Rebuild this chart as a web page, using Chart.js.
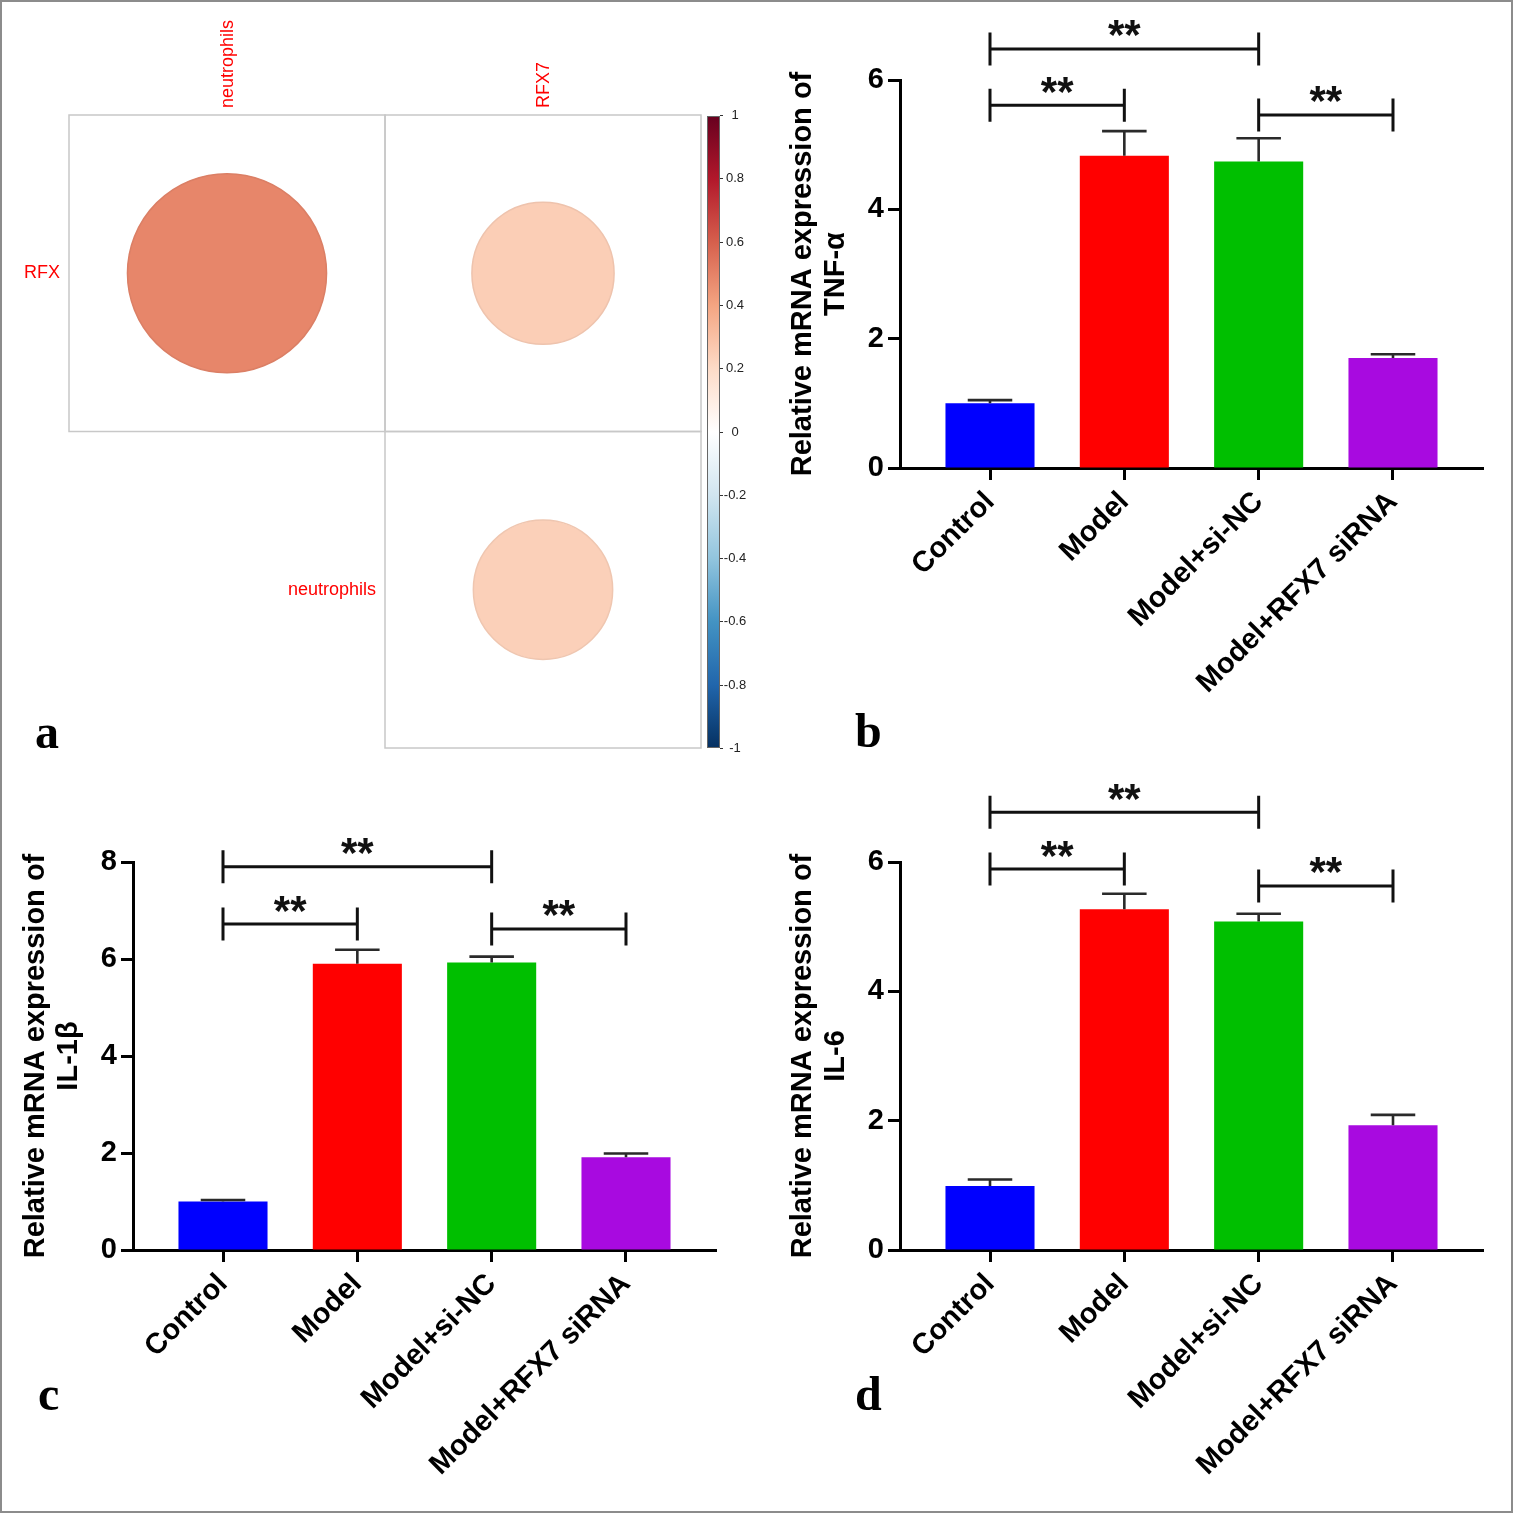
<!DOCTYPE html>
<html><head><meta charset="utf-8">
<script src="https://cdn.jsdelivr.net/npm/chart.js@4.4.1/dist/chart.umd.min.js"></script>
<style>
html,body{margin:0;padding:0;background:#fff;}
#fig{position:relative;width:1513px;height:1513px;background:#fff;overflow:hidden;}
#fig canvas{position:absolute;}
#frame{position:absolute;left:0;top:0;width:1513px;height:1513px;box-sizing:border-box;border:2px solid #8c8c8c;pointer-events:none;}
</style></head>
<body>
<div id="fig">
  <canvas id="ca" width="760" height="760" style="left:0;top:0"></canvas>
  <canvas id="cb" width="753" height="760" style="left:760px;top:0"></canvas>
  <canvas id="cc" width="760" height="753" style="left:0;top:760px"></canvas>
  <canvas id="cd" width="753" height="753" style="left:760px;top:760px"></canvas>
  <div id="frame"></div>
</div>
<script>
// ---------- DATA ----------
const corrCols = ['neutrophils', 'RFX7'];
const corrRows = ['RFX', 'neutrophils'];
const corrRowIdx = [0, 0, 1];
const corrColIdx = [0, 1, 1];
const corrVals = [0.49, 0.25, 0.24];
const cbTicks = [1, 0.8, 0.6, 0.4, 0.2, 0, -0.2, -0.4, -0.6, -0.8, -1];

const categories = ['Control', 'Model', 'Model+si-NC', 'Model+RFX7 siRNA'];
const tnfMean = [1.00, 4.83, 4.74, 1.70];
const tnfErr  = [0.05, 0.38, 0.36, 0.06];
const il1bMean = [1.00, 5.90, 5.93, 1.91];
const il1bErr  = [0.03, 0.29, 0.12, 0.08];
const il6Mean = [0.99, 5.27, 5.08, 1.93];
const il6Err  = [0.10, 0.24, 0.12, 0.16];
const tnfTicks = [0, 2, 4, 6];
const il1bTicks = [0, 2, 4, 6, 8];
const il6Ticks = [0, 2, 4, 6];
// [from category, to category, bracket level]
const tnfBrackets = [[0, 2, 6.48], [0, 1, 5.61], [2, 3, 5.46]];
const il1bBrackets = [[0, 2, 7.90], [0, 1, 6.72], [2, 3, 6.62]];
const il6Brackets = [[0, 2, 6.77], [0, 1, 5.89], [2, 3, 5.63]];
const sigText = '**';

// ---------- STYLE ----------
const SANS = '"Liberation Sans", Arial, Helvetica, sans-serif';
const SERIF = '"Liberation Serif", "Times New Roman", serif';
Chart.defaults.font.family = SANS;
Chart.defaults.color = '#000';
const barColors = ['#0000ff', '#ff0000', '#00bf00', '#a80ae0'];
const rdbu = ['#053061','#2166AC','#4393C3','#92C5DE','#D1E5F0','#FFFFFF','#FDDBC7','#F4A582','#D6604D','#B2182B','#67001F']; // -1 .. 1
// panel a grid geometry (pixels)
const A_LEFT = 69, A_RIGHT_PAD = 59, A_TOP = 115, A_BOTTOM_PAD = 12, A_W = 760;
const A_CELL_HALF = (A_W - A_LEFT - A_RIGHT_PAD) / corrCols.length / 2;

function hex2rgb(h){return [parseInt(h.substr(1,2),16),parseInt(h.substr(3,2),16),parseInt(h.substr(5,2),16)];}
function corrColor(v, k){
  k = k || 1;
  const p = (v + 1) / 2 * (rdbu.length - 1);
  const i = Math.min(Math.floor(p), rdbu.length - 2), t = p - i;
  const a = hex2rgb(rdbu[i]), b = hex2rgb(rdbu[i+1]);
  const c = a.map((x, j) => Math.round((x + (b[j] - x) * t) * k));
  return 'rgb(' + c.join(',') + ')';
}

function letterPlugin(letter, x, y){
  return {id:'letter', afterDraw(chart){
    const ctx = chart.ctx; ctx.save();
    ctx.font = 'bold 48px ' + SERIF; ctx.fillStyle = '#000';
    ctx.textAlign = 'left'; ctx.textBaseline = 'alphabetic';
    ctx.fillText(letter, x, y); ctx.restore();
  }};
}

// ---------- PANEL A ----------
const cbToY = v => 1 - v;   // colour-bar value -> row-scale value (+1 at top, -1 at bottom)
const corrPlugin = {
  id: 'corr',
  beforeDatasetsDraw(chart){
    const {ctx, scales:{x, y}} = chart;
    ctx.save(); ctx.strokeStyle = '#c8c8c8'; ctx.lineWidth = 1.5;
    corrVals.forEach((v, i) => {
      const x0 = x.getPixelForValue(corrColIdx[i]), x1 = x.getPixelForValue(corrColIdx[i] + 1);
      const y0 = y.getPixelForValue(corrRowIdx[i]), y1 = y.getPixelForValue(corrRowIdx[i] + 1);
      ctx.strokeRect(x0, y0, x1 - x0, y1 - y0);
    });
    ctx.restore();
  },
  afterDraw(chart){
    const {ctx, scales:{x, y}, chartArea} = chart;
    ctx.save();
    ctx.font = '18px ' + SANS; ctx.fillStyle = '#ff0000'; ctx.textAlign = 'right'; ctx.textBaseline = 'middle';
    corrRows.forEach((r, ri) => {
      const cols = corrColIdx.filter((c, i) => corrRowIdx[i] === ri);
      const first = Math.min.apply(null, cols);
      ctx.fillText(r, x.getPixelForValue(first) - 9, y.getPixelForValue(ri + 0.5));
    });
    const bx = chartArea.right + 6, bw = 13;
    const yt = y.getPixelForValue(cbToY(1)) + 1, yb = y.getPixelForValue(cbToY(-1));
    const g = ctx.createLinearGradient(0, yt, 0, yb);
    rdbu.slice().reverse().forEach((c, i) => g.addColorStop(i / (rdbu.length - 1), c));
    ctx.fillStyle = g; ctx.fillRect(bx, yt, bw, yb - yt);
    ctx.strokeStyle = '#666'; ctx.lineWidth = 1; ctx.strokeRect(bx + 0.5, yt + 0.5, bw - 1, yb - yt - 1);
    ctx.strokeStyle = '#333'; ctx.fillStyle = '#222';
    ctx.font = '13px ' + SANS; ctx.textAlign = 'center'; ctx.textBaseline = 'middle';
    cbTicks.forEach(v => {
      const py = Math.round(y.getPixelForValue(cbToY(v))) + 0.5;
      ctx.beginPath(); ctx.moveTo(bx + bw, py); ctx.lineTo(bx + bw + 3, py); ctx.stroke();
      ctx.fillText(String(v), bx + bw + 15, py);
    });
    ctx.restore();
  }
};

new Chart(document.getElementById('ca'), {
  type: 'bubble',
  data: {datasets: [{
    data: corrVals.map((v, i) => ({
      x: corrColIdx[i] + 0.5,
      y: corrRowIdx[i] + 0.5,
      r: 0.9 * Math.sqrt(Math.abs(v)) * A_CELL_HALF
    })),
    backgroundColor: corrVals.map(v => corrColor(v)),
    borderColor: corrVals.map(v => corrColor(v, 0.95)),
    borderWidth: 1.5,
    hoverRadius: 0,
    clip: false
  }]},
  options: {
    responsive: false, animation: false, events: [],
    layout: {autoPadding: false, padding: {left: A_LEFT, top: 0, right: A_RIGHT_PAD, bottom: A_BOTTOM_PAD}},
    plugins: {legend: {display: false}, tooltip: {enabled: false}},
    scales: {
      x: {type: 'linear', position: 'top', min: 0, max: 2,
          afterBuildTicks: s => { s.ticks = corrCols.map((c, i) => ({value: i + 0.5})); },
          afterFit: s => { s.height = A_TOP; },
          ticks: {callback: v => corrCols[Math.round(v - 0.5)], minRotation: 90, maxRotation: 90, autoSkip: false,
                  color: '#ff0000', font: {size: 18}, padding: 7, labelOffset: 23},
          grid: {display: false, drawTicks: false}, border: {display: false}},
      y: {type: 'linear', min: 0, max: 2, reverse: true, display: false}
    }
  },
  plugins: [corrPlugin, letterPlugin('a', 35, 748)]
});

// ---------- BAR PANELS ----------
function barPanel(id, W, H, area, means, errs, yTicks, brackets, titleLines, titlePad, letterPos){
  const errPlugin = {id: 'err', afterDatasetsDraw(chart){
    const {ctx, scales:{y}} = chart; const meta = chart.getDatasetMeta(0);
    ctx.save(); ctx.strokeStyle = '#2a2a2a'; ctx.lineWidth = 2.6;
    meta.data.forEach((el, i) => {
      const y0 = y.getPixelForValue(means[i]), y1 = y.getPixelForValue(means[i] + errs[i]);
      const hw = el.width * 0.25;
      ctx.beginPath(); ctx.moveTo(el.x, y0); ctx.lineTo(el.x, y1);
      ctx.moveTo(el.x - hw, y1); ctx.lineTo(el.x + hw, y1); ctx.stroke();
    });
    ctx.restore();
  }};
  const brPlugin = {id: 'brackets', afterDraw(chart){
    const {ctx, scales:{x, y}} = chart;
    ctx.save(); ctx.strokeStyle = '#111'; ctx.fillStyle = '#111'; ctx.lineWidth = 3;
    ctx.font = 'bold 42px ' + SANS; ctx.textAlign = 'center'; ctx.textBaseline = 'alphabetic';
    brackets.forEach(b => {
      const x1 = x.getPixelForValue(b[0]), x2 = x.getPixelForValue(b[1]), py = y.getPixelForValue(b[2]);
      ctx.beginPath();
      ctx.moveTo(x1, py); ctx.lineTo(x2, py);
      ctx.moveTo(x1, py - 16.5); ctx.lineTo(x1, py + 16.5);
      ctx.moveTo(x2, py - 16.5); ctx.lineTo(x2, py + 16.5);
      ctx.stroke();
      ctx.fillText(sigText, (x1 + x2) / 2, py - 23 + 0.56 * 42);
    });
    ctx.restore();
  }};
  return new Chart(document.getElementById(id), {
    type: 'bar',
    data: {datasets: [{
      data: means.map((m, i) => ({x: i, y: m})),
      backgroundColor: barColors, borderWidth: 0,
      barPercentage: 0.663, categoryPercentage: 1
    }]},
    options: {
      responsive: false, animation: false, events: [],
      layout: {autoPadding: false, padding: {left: 0, top: area.top, right: W - area.right, bottom: 0}},
      plugins: {legend: {display: false}, tooltip: {enabled: false}},
      scales: {
        x: {type: 'linear', min: -0.67, max: 3.67, offset: false,
            afterBuildTicks: s => { s.ticks = categories.map((c, i) => ({value: i})); },
            afterFit: s => { s.height = H - area.bottom; },
            ticks: {callback: v => categories[v], minRotation: 45, maxRotation: 45, autoSkip: false,
                    font: {size: 29, weight: 'bold'}, color: '#000', padding: 5},
            grid: {offset: false, drawOnChartArea: false, tickLength: 12, tickWidth: 3, tickColor: '#000'},
            border: {color: '#000', width: 3}},
        y: {min: yTicks[0], max: yTicks[yTicks.length - 1],
            afterBuildTicks: s => { s.ticks = yTicks.map(v => ({value: v})); },
            afterFit: s => { s.width = area.left; },
            ticks: {font: {size: 29, weight: 'bold'}, color: '#000', padding: 4},
            grid: {drawOnChartArea: false, tickLength: 12, tickWidth: 3, tickColor: '#000'},
            border: {color: '#000', width: 3},
            title: {display: true, text: titleLines, color: '#000',
                    font: {size: 29, weight: 'bold', lineHeight: 1.14}, padding: {top: titlePad, bottom: 0}}}
      }
    },
    plugins: [errPlugin, brPlugin, letterPlugin(letterPos[0], letterPos[1], letterPos[2])]
  });
}

barPanel('cb', 753, 760, {left: 140, right: 723, top: 80, bottom: 468}, tnfMean, tnfErr, tnfTicks, tnfBrackets,
         ['Relative mRNA expression of', 'TNF-α'], 26, ['b', 95, 747]);
barPanel('cc', 760, 753, {left: 133, right: 716, top: 102, bottom: 490}, il1bMean, il1bErr, il1bTicks, il1bBrackets,
         ['Relative mRNA expression of', 'IL-1β'], 19, ['c', 38, 650]);
barPanel('cd', 753, 753, {left: 140, right: 723, top: 102, bottom: 490}, il6Mean, il6Err, il6Ticks, il6Brackets,
         ['Relative mRNA expression of', 'IL-6'], 26, ['d', 95, 650]);
</script>
</body></html>
